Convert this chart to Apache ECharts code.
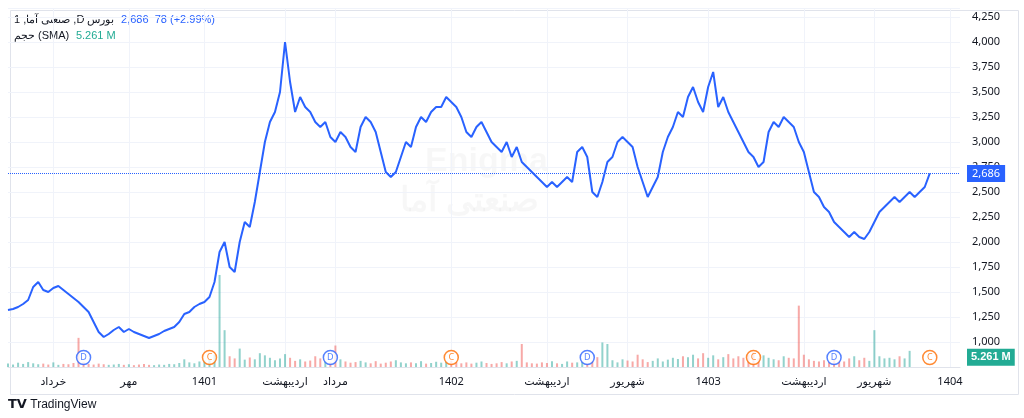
<!DOCTYPE html>
<html>
<head>
<meta charset="utf-8">
<script src="https://cdn.jsdelivr.net/npm/echarts@6/dist/echarts.min.js"></script>
<style>
  html, body { margin: 0; padding: 0; background: #fff; }
  #chart { width: 1024px; height: 418px; }
</style>
</head>
<body>
<div id="chart"></div>
<script>
'use strict';
// price (close), one point per bar
var prices = [
  1320,1330,1350,1380,1420,1550,1600,1520,1500,1540,1560,1520,1480,1440,1400,1350,1300,1200,1100,1050,
  1080,1120,1150,1100,1130,1100,1080,1060,1040,1060,1080,1110,1130,1150,1200,1280,1300,1350,1380,1400,
  1450,1600,1900,2000,1750,1700,2000,2200,2150,2400,2700,3000,3200,3300,3500,4000,3600,3300,3450,3350,
  3300,3200,3150,3200,3050,3000,3100,3050,2950,2900,3150,3250,3200,3100,2900,2700,2650,2700,2850,3000,
  2950,3150,3250,3200,3300,3350,3350,3450,3400,3350,3250,3100,3050,3150,3200,3100,3000,2950,2900,3000,
  2850,2950,2800,2750,2700,2650,2600,2550,2600,2550,2600,2650,2600,2900,2950,2850,2500,2450,2600,2800,
  2850,3000,3050,3000,2950,2750,2600,2450,2550,2650,2900,3050,3150,3300,3250,3450,3550,3400,3300,3550,
  3700,3350,3450,3300,3200,3100,3000,2900,2850,2750,2800,3100,3200,3150,3250,3200,3150,3000,2900,2700,
  2500,2450,2350,2300,2200,2150,2100,2050,2100,2050,2030,2100,2200,2300,2350,2400,2450,2400,2450,2500,
  2450,2500,2550,2686,null,null,null,null,null,null
];
// volume in millions
var volumes = [
  1.1,0.8,1.4,1.0,1.6,1.2,0.9,1.1,0.8,1.5,0.7,1.0,0.9,1.3,9.5,1.6,1.0,0.8,1.1,0.9,
  0.7,0.8,1.0,0.7,0.9,0.6,0.8,1.0,0.7,0.6,0.8,0.7,1.0,0.9,1.3,2.5,1.5,1.2,1.8,2.2,
  2.5,4.0,30.0,12.0,3.5,2.8,6.0,2.4,3.1,2.5,4.5,3.8,3.0,2.2,2.8,4.2,3.0,2.0,2.5,1.8,
  2.1,3.5,2.8,2.0,1.5,7.0,2.5,1.8,1.4,1.6,2.0,1.5,1.2,1.9,1.1,1.4,1.8,2.2,1.5,1.2,
  1.5,1.2,1.9,1.1,1.3,1.7,1.4,1.8,2.0,1.6,1.2,1.5,1.1,1.4,1.8,1.3,1.0,1.2,1.6,1.2,
  1.8,2.0,7.5,1.5,1.2,1.1,1.5,1.3,1.9,1.2,1.0,1.8,1.4,1.5,1.8,1.1,2.0,3.2,8.0,7.5,
  2.2,1.5,2.5,2.1,1.8,4.0,2.5,1.6,2.0,2.8,1.8,2.4,3.0,2.6,3.5,3.2,4.0,2.8,4.5,3.0,
  3.8,2.5,3.2,4.2,2.8,3.5,3.0,4.0,4.8,2.8,3.8,3.0,2.5,2.2,3.5,3.0,2.8,20.0,4.0,2.5,
  2.0,1.8,2.2,1.5,2.5,2.0,1.8,2.8,3.5,2.2,3.0,2.0,12.0,3.5,2.8,3.0,2.5,3.5,2.8,5.261,
  null,null,null,null,null,null
];
var lastVolume = 5.261;
var xLabels = { 9: 'خرداد', 24: 'مهر', 39: '1401', 55: 'اردیبهشت', 65: 'مرداد', 88: '1402',
  107: 'اردیبهشت', 123: 'شهریور', 139: '1403', 158: 'اردیبهشت', 172: 'شهریور', 187: '1404' };
var dividends = [15, 64, 115, 164];
var capitals = [40, 88, 148, 183];

var cats = prices.map(function (p, i) { return i; });
var volData = volumes.map(function (v, i) {
  var up = i === 0 || prices[i] === null || prices[i - 1] === null || prices[i] >= prices[i - 1];
  return { value: v, itemStyle: { color: up ? 'rgba(38,166,154,0.5)' : 'rgba(239,83,80,0.5)' } };
});
function eventPoints(list) {
  return list.map(function (i) { return [i, 845]; });
}
var isLabel = function (i) { return xLabels[i] !== undefined; };

var myChart = echarts.init(document.getElementById('chart'));
myChart.setOption({
  animation: false,
  textStyle: { fontFamily: 'Noto Sans, DejaVu Sans, sans-serif' },
  grid: { left: 8, right: 64, top: 8, bottom: 51 },
  graphic: [
    { type: 'rect', left: 8, top: 8, shape: { width: 1008, height: 384 }, style: { fill: 'none', stroke: '#e0e3eb' }, silent: true },
    { type: 'text', left: 425, top: 145, style: { text: 'Enigma', fontSize: 34, fill: 'rgba(0,0,0,0.03)', fontWeight: 'bold' } },
    { type: 'text', left: 400, top: 185, style: { text: 'صنعتی آما', fontSize: 34, fill: 'rgba(0,0,0,0.03)', fontWeight: 'bold' } },
    { type: 'text', left: 14, top: 14, style: { rich: { a: { fill: '#131722', fontSize: 11 }, b: { fill: '#2962ff', fontSize: 11 } },
      text: '{a|1 ,صنعتی آما ,D بورس}  {b|2,686  78 (+2.99%)}' } },
    { type: 'text', left: 14, top: 30, style: { rich: { a: { fill: '#131722', fontSize: 11 }, b: { fill: '#22ab94', fontSize: 11 } },
      text: '{a|حجم (SMA)}  {b|5.261 M}' } },
    { type: 'text', left: 8, top: 398, style: { rich: { l: { fill: '#131722', fontSize: 13, fontWeight: 'bold', fontFamily: 'DejaVu Sans' }, t: { fill: '#131722', fontSize: 12 } },
      text: '{l|TV} {t|TradingView}' } }
  ],
  xAxis: {
    type: 'category', data: cats, boundaryGap: false,
    axisLine: { lineStyle: { color: '#e0e3eb' } }, axisTick: { show: false },
    axisLabel: { interval: function (i) { return isLabel(i); }, formatter: function (v) { return xLabels[v] || ''; },
      color: '#131722', fontSize: 11, margin: 9 },
    splitLine: { show: true, interval: function (i) { return isLabel(i); }, lineStyle: { color: '#f0f3fa' } }
  },
  yAxis: [
    { type: 'value', position: 'right', min: 750, max: 4340, interval: 250,
      axisLine: { show: false }, axisTick: { show: false },
      axisLabel: { color: '#131722', fontSize: 11, showMaxLabel: false, showMinLabel: false, margin: 12,
        formatter: function (v) { return v.toLocaleString('en-US'); } },
      splitLine: { lineStyle: { color: '#f0f3fa' } } },
    { type: 'value', min: 0, max: 117, show: false }
  ],
  series: [
    { type: 'bar', yAxisIndex: 1, data: volData, barWidth: 2 },
    { type: 'line', data: prices, showSymbol: false, lineStyle: { color: '#2962ff', width: 2 }, itemStyle: { color: '#2962ff' },
      markLine: { symbol: 'none', silent: true, data: [{ yAxis: 2686 }],
        lineStyle: { color: '#2962ff', type: 'dotted', width: 1 },
        label: { position: 'end', formatter: '2,686', color: '#fff', backgroundColor: '#2962ff', padding: [3, 5], fontSize: 11, distance: 7 } } },
    { type: 'scatter', data: eventPoints(dividends), symbolSize: 14,
      itemStyle: { color: '#fff', borderColor: '#2962ff', borderWidth: 1.5 },
      label: { show: true, position: 'inside', formatter: 'D', color: '#2962ff', fontSize: 9 } },
    { type: 'scatter', data: eventPoints(capitals), symbolSize: 14,
      itemStyle: { color: '#fff', borderColor: '#ff6d00', borderWidth: 1.5 },
      label: { show: true, position: 'inside', formatter: 'C', color: '#ff6d00', fontSize: 9 } }
  ]
});

// last-volume tag on the right scale (sits a little below the bar top, as in the original)
var vy = myChart.convertToPixel({ yAxisIndex: 1 }, lastVolume);
myChart.setOption({ graphic: [{ type: 'text', id: 'volTag', left: 967, top: vy - 2,
  style: { text: '5.261 M', fill: '#fff', backgroundColor: '#22ab94', padding: [3, 4], fontSize: 11, fontWeight: 'bold' }, z: 100 }] });
</script>
</body>
</html>
